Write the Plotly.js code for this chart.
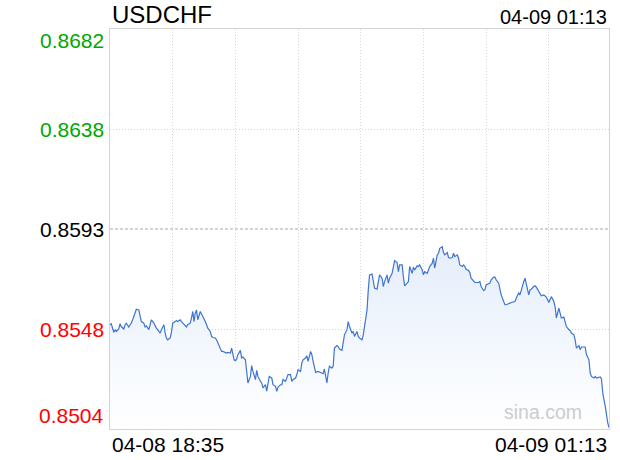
<!DOCTYPE html>
<html><head><meta charset="utf-8">
<script src="https://cdn.plot.ly/plotly-3.0.1.min.js"></script>
<style>html,body{margin:0;padding:0;background:#fff}#chart{width:620px;height:460px}</style>
</head><body><div id="chart"></div>
<script>
const symbol = "USDCHF";
const lastTime = "04-09 01:13";
const xLabels = ["04-08 18:35", "04-09 01:13"];
const yTickLabels = ["0.8682", "0.8638", "0.8593", "0.8548", "0.8504"];
const yTickValues = [0.8682, 0.86375, 0.8593, 0.85485, 0.8504];
const yTickColors = ["#00a800", "#00a800", "#000000", "#ff0000", "#ff0000"];
const prevClose = 0.8593;
const watermark = "sina.com";

const minutes = [
0,1,3,4,5,7,8,9,11,12,13,15,16,17,19,20,21,23,24,25,27,28,29,31,32,33,35,36,37,39,40,41,43,44,45,46,48,49,50,52,53,54,56,57,58,60,61,62,64,65,66,67,68,69,70,72,73,74,76,77,78,80,81,82,84,85,86,88,89,90,92,93,94,96,97,98,99,100,
101,102,104,105,106,108,109,110,112,113,114,116,117,118,120,121,122,124,125,126,127,129,130,132,133,134,136,137,138,140,141,142,144,145,146,148,149,150,152,153,154,156,157,158,160,161,162,163,164,166,168,170,171,172,173,174,175,177,178,179,181,182,183,185,186,187,189,190,191,193,194,195,197,198,
199,201,202,203,205,206,207,209,210,211,213,214,215,217,218,219,221,222,223,225,226,227,229,230,231,233,234,235,237,238,239,241,242,243,245,246,247,249,250,251,253,254,255,257,258,259,261,262,263,265,266,267,269,270,271,273,274,275,277,278,279,281,282,283,284,286,287,288,290,291,292,294,
295,296,298,299,300,302,303,304,306,307,308,310,311,312,314,315,316,318,319,320,322,323,324,326,327,328,330,331,332,334,335,336,338,339,340,342,343,344,346,347,348,350,351,352,354,355,356,358,359,360,362,363,364,366,367,368,370,371,372,374,375,376,378,379,380,382,383,384,386,387,388,390,391,392,393,395,396,397,398
];
const prices = [
0.85504,0.85508,0.85470,0.85482,0.85474,0.85485,0.85508,0.85496,0.85485,0.85504,0.85511,0.85494,0.85504,0.85511,0.85541,0.85558,0.85573,0.85570,0.85548,0.85518,0.85511,0.85494,0.85499,0.85482,0.85504,0.85526,0.85511,0.85499,0.85489,0.85474,0.85467,0.85482,0.85504,0.85467,0.85445,0.85437,0.85445,0.85470,0.85511,0.85518,0.85523,0.85518,0.85526,0.85518,0.85511,0.85496,0.85494,0.85504,0.85511,0.85534,0.85563,0.85518,0.85556,0.85570,0.85526,0.85563,0.85553,0.85541,0.85518,0.85504,0.85489,0.85474,0.85452,0.85447,0.85445,0.85437,0.85423,0.85393,0.85385,0.85385,0.85381,0.85378,0.85381,0.85378,0.85400,0.85371,0.85348,0.85344,
0.85351,0.85371,0.85390,0.85356,0.85360,0.85348,0.85296,0.85245,0.85274,0.85322,0.85296,0.85260,0.85301,0.85274,0.85252,0.85245,0.85223,0.85237,0.85208,0.85245,0.85274,0.85267,0.85237,0.85230,0.85208,0.85227,0.85237,0.85237,0.85260,0.85252,0.85267,0.85282,0.85282,0.85252,0.85260,0.85267,0.85282,0.85304,0.85296,0.85334,0.85348,0.85356,0.85366,0.85341,0.85385,0.85371,0.85341,0.85319,0.85292,0.85296,0.85292,0.85286,0.85307,0.85267,0.85245,0.85289,0.85319,0.85311,0.85319,0.85400,0.85411,0.85407,0.85396,0.85390,0.85437,0.85459,0.85482,0.85518,0.85496,0.85467,0.85474,0.85452,0.85474,0.85452,
0.85445,0.85437,0.85459,0.85496,0.85570,0.85659,0.85726,0.85730,0.85704,0.85667,0.85662,0.85692,0.85726,0.85711,0.85674,0.85696,0.85726,0.85689,0.85711,0.85733,0.85756,0.85789,0.85780,0.85740,0.85770,0.85770,0.85718,0.85677,0.85689,0.85696,0.85763,0.85733,0.85760,0.85748,0.85766,0.85763,0.85770,0.85748,0.85726,0.85740,0.85733,0.85748,0.85763,0.85778,0.85800,0.85756,0.85815,0.85822,0.85844,0.85851,0.85825,0.85815,0.85825,0.85804,0.85800,0.85803,0.85822,0.85807,0.85815,0.85800,0.85770,0.85763,0.85770,0.85763,0.85751,0.85745,0.85736,0.85711,0.85696,0.85692,0.85692,0.85692,
0.85696,0.85674,0.85656,0.85659,0.85681,0.85686,0.85689,0.85704,0.85716,0.85716,0.85704,0.85689,0.85667,0.85637,0.85607,0.85593,0.85593,0.85600,0.85600,0.85603,0.85607,0.85607,0.85622,0.85645,0.85637,0.85659,0.85696,0.85711,0.85681,0.85637,0.85659,0.85662,0.85674,0.85677,0.85671,0.85652,0.85637,0.85633,0.85637,0.85633,0.85627,0.85603,0.85615,0.85629,0.85607,0.85585,0.85534,0.85578,0.85556,0.85534,0.85538,0.85518,0.85496,0.85482,0.85479,0.85467,0.85459,0.85437,0.85400,0.85411,0.85393,0.85405,0.85407,0.85405,0.85371,0.85348,0.85289,0.85274,0.85267,0.85274,0.85267,0.85272,0.85272,0.85263,0.85201,0.85141,0.85090,0.85067,0.85046
];

const FONT = "'Liberation Sans', Arial, Helvetica, sans-serif";

const trace = {
  x: minutes, y: prices, type: 'scatter', mode: 'lines',
  line: {color: '#3f74cf', width: 1.2},
  fill: 'tozeroy',
  fillgradient: {type: 'vertical', start: yTickValues[4], stop: 0.8588,
    colorscale: [[0, 'rgba(255,255,255,1)'], [1, 'rgba(228,237,251,1)']]},
  hoverinfo: 'skip'
};

const annotations = [];
yTickLabels.forEach((t, i) => {
  let ys = 0;
  if (i === 0) ys = -11;
  if (i === yTickLabels.length - 1) ys = 14;
  annotations.push({xref: 'paper', yref: 'y', x: 0, y: yTickValues[i], xanchor: 'right', yanchor: 'middle',
    xshift: -4, yshift: ys, text: t, showarrow: false, font: {family: FONT, size: 21, color: yTickColors[i]}});
});
annotations.push({xref: 'paper', yref: 'paper', x: 0, y: 1, xanchor: 'left', yanchor: 'middle', xshift: 0, yshift: 15,
  text: symbol, showarrow: false, font: {family: FONT, size: 24, color: '#000'}});
annotations.push({xref: 'paper', yref: 'paper', x: 1, y: 1, xanchor: 'right', yanchor: 'middle', xshift: 0, yshift: 12,
  text: lastTime, showarrow: false, font: {family: FONT, size: 20, color: '#000'}});
annotations.push({xref: 'paper', yref: 'paper', x: 0, y: 0, xanchor: 'left', yanchor: 'middle', xshift: 0, yshift: -15,
  text: xLabels[0], showarrow: false, font: {family: FONT, size: 21, color: '#000'}});
annotations.push({xref: 'paper', yref: 'paper', x: 1, y: 0, xanchor: 'right', yanchor: 'middle', xshift: 0, yshift: -15,
  text: xLabels[1], showarrow: false, font: {family: FONT, size: 21, color: '#000'}});
annotations.push({xref: 'paper', yref: 'paper', x: 1, y: 0, xanchor: 'right', yanchor: 'middle', xshift: -25, yshift: 17,
  text: watermark, showarrow: false, font: {family: FONT, size: 19.5, color: '#cccccc'}});

const layout = {
  width: 620, height: 460,
  margin: {l: 110, r: 11, t: 29, b: 31, pad: 0},
  paper_bgcolor: '#fff', plot_bgcolor: '#fff',
  showlegend: false,
  xaxis: {range: [0, 398], tick0: 0, dtick: 50, showgrid: true, gridcolor: '#d6d6d6', griddash: '1px,2px', gridwidth: 1,
    showticklabels: false, ticks: '', zeroline: false, showline: true, mirror: true, linecolor: '#d4d4d4', linewidth: 1, fixedrange: true},
  yaxis: {range: [yTickValues[4], yTickValues[0]], tickvals: [yTickValues[1], yTickValues[3]], showgrid: true, gridcolor: '#d6d6d6',
    griddash: '1px,2px', gridwidth: 1, showticklabels: false, ticks: '', zeroline: false, showline: true, mirror: true,
    linecolor: '#d4d4d4', linewidth: 1, fixedrange: true},
  shapes: [{type: 'line', layer: 'below', xref: 'paper', x0: 0, x1: 1, yref: 'y', y0: prevClose, y1: prevClose,
    line: {color: '#a8a8a8', width: 1, dash: '3px,2px'}}],
  annotations: annotations
};

Plotly.newPlot('chart', [trace], layout, {staticPlot: true, displayModeBar: false});
</script>
</body></html>
